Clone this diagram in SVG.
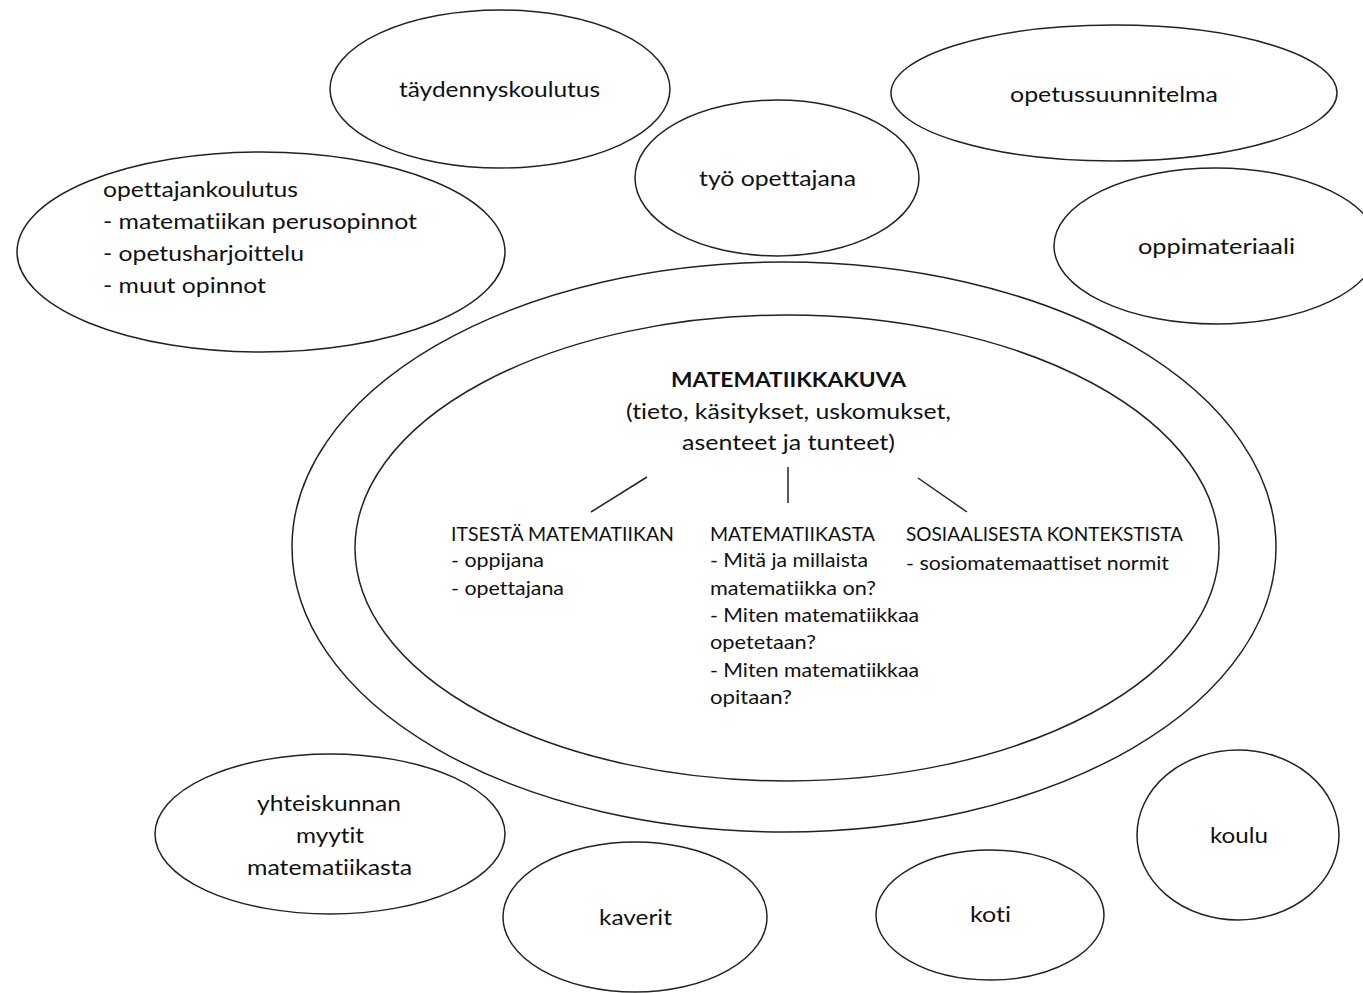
<svg xmlns="http://www.w3.org/2000/svg" width="1363" height="993" viewBox="0 0 1363 993">
<style>
.e{fill:none;stroke:#222;stroke-width:1.5}
.c{stroke:#222;stroke-width:1.5;fill:none}
text{font-family:Lato,"Open Sans","Liberation Sans",sans-serif;font-size:21px;fill:#111;font-variant-ligatures:none;font-feature-settings:"liga" 0,"dlig" 0}
.s{font-size:20px}
.b{font-weight:bold}
</style>
<rect width="1363" height="993" fill="#fff"/>
<g id="taydennyskoulutus"><ellipse class="e" cx="500" cy="89" rx="170" ry="79"/><text x="399" y="97" textLength="201" lengthAdjust="spacingAndGlyphs">täydennyskoulutus</text></g>
<g id="opetussuunnitelma"><ellipse class="e" cx="1114" cy="93" rx="223" ry="68"/><text x="1010" y="102" textLength="208" lengthAdjust="spacingAndGlyphs">opetussuunnitelma</text></g>
<g id="tyo"><ellipse class="e" cx="777" cy="178" rx="142" ry="78"/><text x="699" y="186" textLength="157" lengthAdjust="spacingAndGlyphs">työ opettajana</text></g>
<g id="opettajankoulutus"><ellipse class="e" cx="261" cy="252" rx="244" ry="100"/>
<text x="103" y="197" textLength="195" lengthAdjust="spacingAndGlyphs">opettajankoulutus</text>
<text x="103" y="229" textLength="314" lengthAdjust="spacingAndGlyphs">- matematiikan perusopinnot</text>
<text x="103" y="261" textLength="201" lengthAdjust="spacingAndGlyphs">- opetusharjoittelu</text>
<text x="103" y="293" textLength="163" lengthAdjust="spacingAndGlyphs">- muut opinnot</text></g>
<g id="oppimateriaali"><ellipse class="e" cx="1216" cy="246" rx="162" ry="78"/><text x="1138" y="254" textLength="157" lengthAdjust="spacingAndGlyphs">oppimateriaali</text></g>
<g id="outer"><ellipse class="e" cx="784" cy="547" rx="492" ry="285"/></g>
<g id="matematiikkakuva"><ellipse class="e" cx="787" cy="548" rx="432" ry="233"/>
<text class="b" x="671" y="387" textLength="235" lengthAdjust="spacingAndGlyphs">MATEMATIIKKAKUVA</text>
<text x="626" y="419" textLength="325" lengthAdjust="spacingAndGlyphs">(tieto, käsitykset, uskomukset,</text>
<text x="682" y="450" textLength="213" lengthAdjust="spacingAndGlyphs">asenteet ja tunteet)</text></g>
<g id="itsesta"><text class="s" x="451" y="541" textLength="223" lengthAdjust="spacingAndGlyphs">ITSESTÄ MATEMATIIKAN</text>
<text class="s" x="451" y="567" textLength="93" lengthAdjust="spacingAndGlyphs">- oppijana</text>
<text class="s" x="451" y="595" textLength="113" lengthAdjust="spacingAndGlyphs">- opettajana</text></g>
<g id="matematiikasta"><text class="s" x="710" y="541" textLength="165" lengthAdjust="spacingAndGlyphs">MATEMATIIKASTA</text>
<text class="s" x="710" y="567" textLength="158" lengthAdjust="spacingAndGlyphs">- Mitä ja millaista</text>
<text class="s" x="710" y="595" textLength="166" lengthAdjust="spacingAndGlyphs">matematiikka on?</text>
<text class="s" x="710" y="622" textLength="209" lengthAdjust="spacingAndGlyphs">- Miten matematiikkaa</text>
<text class="s" x="710" y="649" textLength="106" lengthAdjust="spacingAndGlyphs">opetetaan?</text>
<text class="s" x="710" y="677" textLength="209" lengthAdjust="spacingAndGlyphs">- Miten matematiikkaa</text>
<text class="s" x="710" y="704" textLength="82" lengthAdjust="spacingAndGlyphs">opitaan?</text></g>
<g id="sosiaalisesta"><text class="s" x="906" y="541" textLength="277" lengthAdjust="spacingAndGlyphs">SOSIAALISESTA KONTEKSTISTA</text>
<text class="s" x="906" y="570" textLength="263" lengthAdjust="spacingAndGlyphs">- sosiomatemaattiset normit</text></g>
<g id="yhteiskunnan"><ellipse class="e" cx="330" cy="834" rx="175" ry="80"/>
<text x="257" y="811" textLength="144" lengthAdjust="spacingAndGlyphs">yhteiskunnan</text>
<text x="296" y="843" textLength="68" lengthAdjust="spacingAndGlyphs">myytit</text>
<text x="247" y="875" textLength="165" lengthAdjust="spacingAndGlyphs">matematiikasta</text></g>
<g id="kaverit"><ellipse class="e" cx="635" cy="917" rx="132" ry="75"/><text x="599" y="925" textLength="73" lengthAdjust="spacingAndGlyphs">kaverit</text></g>
<g id="koti"><ellipse class="e" cx="990" cy="915" rx="114" ry="65"/><text x="970" y="922" textLength="41" lengthAdjust="spacingAndGlyphs">koti</text></g>
<g id="koulu"><ellipse class="e" cx="1238" cy="835" rx="101" ry="85"/><text x="1210" y="843" textLength="58" lengthAdjust="spacingAndGlyphs">koulu</text></g>
<g id="connectors">
<line class="c" x1="591" y1="512" x2="647" y2="477"/>
<line class="c" x1="788" y1="467" x2="788" y2="503"/>
<line class="c" x1="918" y1="478" x2="967" y2="512"/>
</g>
</svg>
